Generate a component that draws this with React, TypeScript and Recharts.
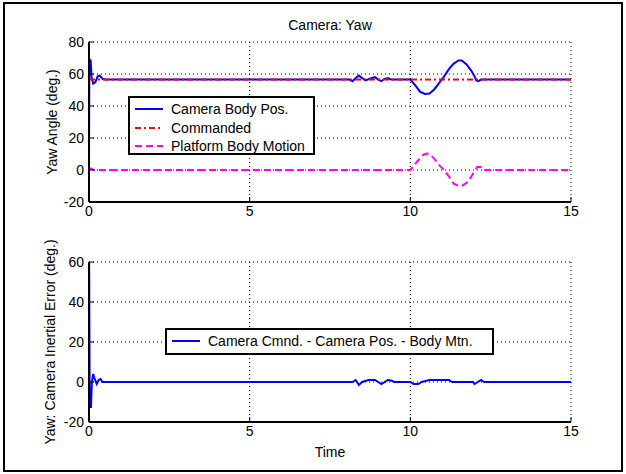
import React from "react";
import { LineChart, Line, XAxis, YAxis, CartesianGrid } from "recharts";

const FONT = '"Liberation Sans", Arial, Helvetica, sans-serif';

const X_TICKS = [0, 5, 10, 15];
const TOP_Y_TICKS = [-20, 0, 20, 40, 60, 80];
const BOTTOM_Y_TICKS = [-20, 0, 20, 40, 60];

// Camera body position (deg.)
const bodyT = [0, 0.01, 0.03, 0.05, 0.08, 0.13, 0.2, 0.27, 0.34, 0.42, 0.5, 8.1, 8.2, 8.3, 8.4, 8.5, 8.6, 8.8, 8.9, 9.0, 9.1, 9.2, 9.3, 9.4, 9.5, 10.0, 10.15, 10.3, 10.45, 10.6, 10.75, 10.9, 11.05, 11.2, 11.35, 11.5, 11.6, 11.75, 11.9, 12.0, 12.05, 12.12, 12.2, 15];
const bodyV = [0, 70, 62, 69, 58, 54, 55, 58.5, 59, 57, 56.5, 56.5, 55.5, 57.5, 59, 57.5, 56, 57.5, 58, 56.5, 55.5, 57, 57.5, 56.5, 56.5, 56.5, 53, 49, 47.5, 47.8, 50.5, 54.5, 58.5, 63, 66.5, 68.5, 68.5, 66, 62, 58.5, 56, 55.5, 56.5, 56.5];

// Commanded yaw
const cmdT = [0, 15];
const cmdV = [56.5, 56.5];

// Platform body motion
const platT = [0, 0.05, 0.15, 10.0, 10.2, 10.4, 10.5, 10.6, 10.75, 10.9, 11.05, 11.2, 11.35, 11.5, 11.6, 11.75, 11.9, 12.0, 12.08, 12.2, 12.28, 15];
const platV = [0, 1, 0, 0, 5, 9.5, 10.3, 10, 7, 3, 0, -4, -8.5, -10, -10, -8, -4, -0.5, 1.8, 1.8, 0, 0];

// Camera cmnd - camera pos - body mtn
const errT = [0, 0.005, 0.02, 0.06, 0.09, 0.13, 0.18, 0.24, 0.3, 0.36, 0.42, 8.2, 8.3, 8.4, 8.5, 8.7, 8.9, 9.0, 9.1, 9.2, 9.3, 9.4, 9.5, 10.0, 10.1, 10.25, 10.35, 10.6, 11.2, 11.3, 11.95, 12.0, 12.1, 12.2, 12.3, 15];
const errV = [0, 60, -5, -13, 0, 4, 1.5, -1, 1, 1.5, 0, 0, 1, -1.5, 0, 1, 1, 0, -1, 0, 1, 0.8, 0, 0, -1, -1, 0, 1, 1, 0, 0, -1, 0, 1, 0, 0];

const toPoints = (t: number[], v: number[]) => t.map((x, i) => ({ t: x, v: v[i] }));

type Series = { name: string; color: string; dash?: string; t: number[]; v: number[] };

const topSeries: Series[] = [
  { name: "Camera Body Pos.", color: "#0000ff", t: bodyT, v: bodyV },
  { name: "Commanded", color: "#ff0000", dash: "6 3 2 3", t: cmdT, v: cmdV },
  { name: "Platform Body Motion", color: "#ff00ff", dash: "7 4", t: platT, v: platV },
];

const bottomSeries: Series[] = [
  { name: "Camera Cmnd. - Camera Pos. - Body Mtn.", color: "#0000ff", t: errT, v: errV },
];

const tickStyle = { fill: "#000", fontSize: 14, fontFamily: FONT };
const frame = { stroke: "#000", strokeWidth: 2 };
const tl = { stroke: "#000", strokeWidth: 1 };

function Panel({ series, yDomain, yTicks, top }: { series: Series[]; yDomain: [number, number]; yTicks: number[]; top: number }) {
  return (
    <div style={{ position: "absolute", left: 0, top }}>
      <LineChart width={626} height={240} margin={{ top: 42, right: 55, bottom: 8, left: 49 }}>
        <CartesianGrid stroke="#000" strokeDasharray="1 3" />
        <XAxis type="number" dataKey="t" domain={[0, 15]} ticks={X_TICKS} interval={0} allowDataOverflow
          height={30} tick={tickStyle} tickSize={-5} tickMargin={9} axisLine={frame} tickLine={tl} />
        <XAxis xAxisId="top" orientation="top" type="number" dataKey="t" domain={[0, 15]} ticks={X_TICKS} interval={0}
          height={0} tick={false} tickSize={-5} axisLine={frame} tickLine={tl} />
        <YAxis type="number" domain={yDomain} ticks={yTicks} interval={0} allowDataOverflow
          width={40} tick={tickStyle} tickSize={-5} tickMargin={10} axisLine={frame} tickLine={tl} />
        <YAxis yAxisId="right" orientation="right" type="number" domain={yDomain} ticks={yTicks} interval={0}
          width={0} tick={false} tickSize={-5} axisLine={frame} tickLine={tl} />
        {series.map((s) => (
          <Line key={s.name} data={toPoints(s.t, s.v)} dataKey="v" type="linear" stroke={s.color}
            strokeWidth={2} strokeDasharray={s.dash} dot={false} isAnimationActive={false} />
        ))}
      </LineChart>
    </div>
  );
}

function LegendBox({ series, left, top, width, height, rowGap }: { series: Series[]; left: number; top: number; width: number; height: number; rowGap: number }) {
  return (
    <div style={{ position: "absolute", left, top, width, height, boxSizing: "border-box", border: "2px solid #000", background: "#fff" }}>
      {series.map((s, i) => (
        <div key={s.name} style={{ position: "absolute", left: 5, top: 2 + i * rowGap, height: 18, display: "flex", alignItems: "center", whiteSpace: "nowrap" }}>
          <svg width={30} height={18} style={{ display: "block" }}>
            <line x1={0} x2={28} y1={9} y2={9} stroke={s.color} strokeWidth={2} strokeDasharray={s.dash} />
          </svg>
          <span style={{ marginLeft: 6, fontSize: 14, fontFamily: FONT, color: "#000" }}>{s.name}</span>
        </div>
      ))}
    </div>
  );
}

const textStyle: React.CSSProperties = { position: "absolute", fontSize: 14, fontFamily: FONT, color: "#000", whiteSpace: "nowrap" };

export default function App() {
  return (
    <div style={{ position: "absolute", left: 0, top: 0, width: 626, height: 474, background: "#fff", overflow: "hidden" }}>
      <div style={{ position: "absolute", left: 3, top: 2, width: 620, height: 470, boxSizing: "border-box", border: "2px solid #000" }} />
      <Panel series={topSeries} yDomain={[-20, 80]} yTicks={TOP_Y_TICKS} top={0} />
      <Panel series={bottomSeries} yDomain={[-20, 60]} yTicks={BOTTOM_Y_TICKS} top={220} />
      <div style={{ ...textStyle, left: 330, top: 25, transform: "translate(-50%, -50%)" }}>Camera:  Yaw</div>
      <div style={{ ...textStyle, left: 330, top: 452, transform: "translate(-50%, -50%)" }}>Time</div>
      <div style={{ ...textStyle, left: 52, top: 122, transform: "translate(-50%, -50%) rotate(-90deg)" }}>Yaw Angle (deg.)</div>
      <div style={{ ...textStyle, left: 50, top: 342, transform: "translate(-50%, -50%) rotate(-90deg)" }}>Yaw: Camera Inertial Error (deg.)</div>
      <LegendBox series={topSeries} left={128} top={96} width={187} height={59} rowGap={18.5} />
      <LegendBox series={bottomSeries} left={165} top={328} width={329} height={27} rowGap={0} />
    </div>
  );
}
